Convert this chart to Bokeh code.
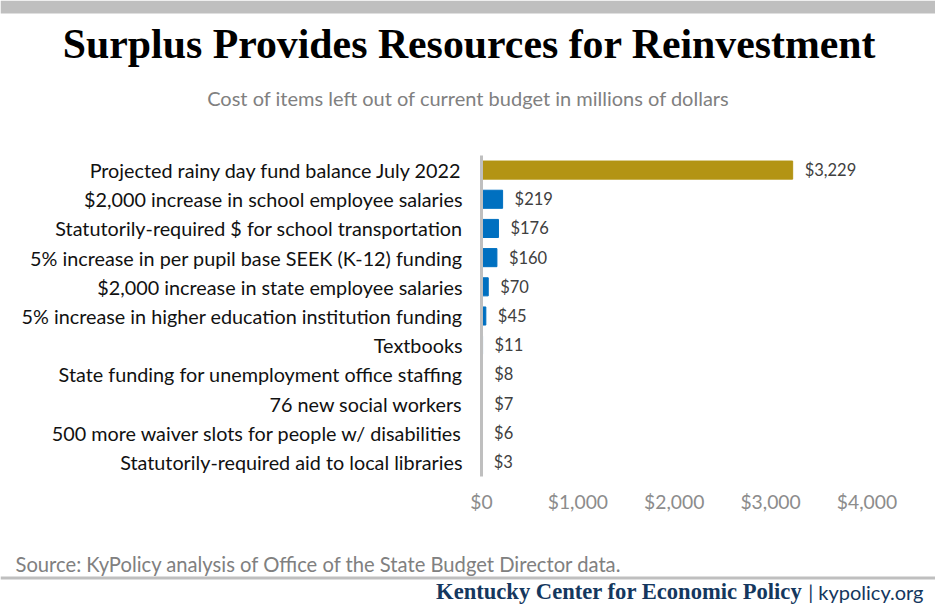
from bokeh.plotting import figure
from bokeh.layouts import column
from bokeh.models import (ColumnDataSource, FactorRange, Range1d, LabelSet, Label,
                          BoxAnnotation, FixedTicker, NumeralTickFormatter)
from bokeh.core.properties import value
from bokeh.embed import file_html
from bokeh.resources import INLINE

categories = [
    "Projected rainy day fund balance July 2022",
    "$2,000 increase in school employee salaries",
    "Statutorily-required $ for school transportation",
    "5% increase in per pupil base SEEK (K-12) funding",
    "$2,000 increase in state employee salaries",
    "5% increase in higher education institution funding",
    "Textbooks",
    "State funding for unemployment office staffing",
    "76 new social workers",
    "500 more waiver slots for people w/ disabilities",
    "Statutorily-required aid to local libraries",
]
values = [3229, 219, 176, 160, 70, 45, 11, 8, 7, 6, 3]
value_labels = ["$3,229", "$219", "$176", "$160", "$70", "$45", "$11", "$8", "$7", "$6", "$3"]
bar_colors = ["#b39414"] + ["#0070c0"] * 10
x_ticks = [0, 1000, 2000, 3000, 4000]

title_text = "Surplus Provides Resources for Reinvestment"
subtitle_text = "Cost of items left out of current budget in millions of dollars"
source_text = "Source: KyPolicy analysis of Office of the State Budget Director data."
org_text = "Kentucky Center for Economic Policy"
site_text = "| kypolicy.org"

W = 935
HEAD_H, MAIN_H, FOOT_H = 125, 420, 70


def blank(h):
    f = figure(width=W, height=h, output_backend="svg", toolbar_location=None,
               x_axis_location=None, y_axis_location=None,
               x_range=Range1d(0, W), y_range=Range1d(0, h),
               min_border=0, min_border_left=0, min_border_right=0,
               min_border_top=0, min_border_bottom=0)
    f.outline_line_color = None
    f.grid.visible = False
    f.frame_align = False
    return f


def canvas_box(f, top, bottom, color):
    f.add_layout(BoxAnnotation(left=0, right=W, top=top, bottom=bottom,
                               left_units="canvas", right_units="canvas",
                               top_units="canvas", bottom_units="canvas",
                               fill_color=color, fill_alpha=1, line_color=None))


# ---- header ----
head = blank(HEAD_H)
canvas_box(head, 0, 13, "#bfbfbf")
head.add_layout(Label(x=469, y=43, x_units="canvas", y_units="canvas", text=title_text,
                      text_align="center", text_baseline="middle",
                      text_font="Liberation Serif", text_font_style="bold",
                      text_font_size="41.8px", text_color="#000000"))
head.add_layout(Label(x=468, y=97, x_units="canvas", y_units="canvas", text=subtitle_text,
                      text_align="center", text_baseline="middle",
                      text_font="Lato", text_font_size="20px", text_color="#808080"))

# ---- main chart ----
src = ColumnDataSource(dict(cat=categories, val=values, lab=value_labels, color=bar_colors))
p = figure(width=W, height=MAIN_H, output_backend="svg", toolbar_location=None,
           y_range=FactorRange(*reversed(categories), range_padding=0),
           x_range=Range1d(0, 4400),
           min_border_left=481, min_border_right=30,
           min_border_top=30, min_border_bottom=69)
p.outline_line_color = None
p.xgrid.visible = False
p.ygrid.visible = False
p.frame_align = False

p.hbar(y="cat", right="val", left=0, height=0.62, color="color", source=src)

p.add_layout(LabelSet(x="val", y="cat", text="lab", source=src, x_offset=12,
                      text_align="left", text_baseline="middle",
                      text_font=value("Lato"), text_font_size="16.5px", text_color="#404040"))

xa = p.xaxis[0]
xa.ticker = FixedTicker(ticks=x_ticks)
xa.formatter = NumeralTickFormatter(format="$0,0")
xa.axis_line_color = None
xa.major_tick_line_color = None
xa.minor_tick_line_color = None
xa.major_label_text_font = "Lato"
xa.major_label_text_font_size = "19.3px"
xa.major_label_text_color = "#8c8c8c"
xa.major_label_standoff = 7

ya = p.yaxis[0]
ya.axis_line_color = "#bfbfbf"
ya.axis_line_width = 3
ya.major_tick_line_color = None
ya.minor_tick_line_color = None
ya.major_label_text_font = "Lato"
ya.major_label_text_font_size = "19.8px"
ya.major_label_text_color = "#111111"
ya.major_label_standoff = 13

# ---- footer ----
foot = blank(FOOT_H)
foot.add_layout(Label(x=15, y=18, x_units="canvas", y_units="canvas", text=source_text,
                      text_align="left", text_baseline="middle",
                      text_font="Lato", text_font_size="20.2px", text_color="#808080"))
canvas_box(foot, 31, 34, "#bfbfbf")
foot.add_layout(Label(x=802, y=46, x_units="canvas", y_units="canvas", text=org_text,
                      text_align="right", text_baseline="middle",
                      text_font="Liberation Serif", text_font_style="bold",
                      text_font_size="22.6px", text_color="#14375e"))
foot.add_layout(Label(x=923, y=46, x_units="canvas", y_units="canvas", text=site_text,
                      text_align="right", text_baseline="middle",
                      text_font="Lato", text_font_size="20px", text_color="#14375e"))

layout = column(head, p, foot, spacing=0)
open("out.html", "w").write(file_html(layout, INLINE))
